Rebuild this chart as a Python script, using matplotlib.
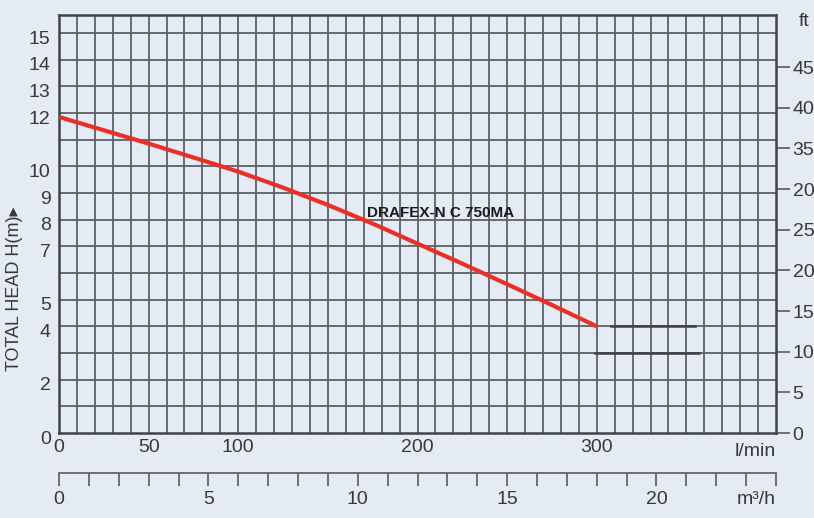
import numpy as np
import matplotlib.pyplot as plt
from matplotlib.ticker import FixedLocator, FixedFormatter, MultipleLocator
from matplotlib.transforms import ScaledTranslation

# pump curve
flow_lmin = [0, 25, 50, 75, 100, 125, 150, 175, 200, 225, 250, 275, 300]
head_m = [11.85, 11.35, 10.85, 10.33, 9.8, 9.2, 8.55, 7.85, 7.1, 6.35, 5.58, 4.8, 4.0]

head_ticks = [0, 2, 4, 5, 7, 8, 9, 10, 12, 13, 14, 15]
flow_ticks = [0, 50, 100, 200, 300]
ft_ticks = [0, 5, 10, 15, 20, 25, 30, 35, 40, 45]
ft_labels = ['0', '5', '10', '15', '20', '25', '20', '35', '40', '45']
m3h_ticks = [0, 5, 10, 15, 20]

# the two dark strokes beside the curve end
mark_x = [[308, 355], [299, 357]]
mark_y = [4, 3]

bg = '#e4ebf5'
ink = '#383838'
plt.rcParams['font.family'] = ['Liberation Sans', 'DejaVu Sans']

fig = plt.figure(figsize=(8.14, 5.18), dpi=100, facecolor=bg)
ax = fig.add_axes([0.0725, 0.164, 0.8808, 0.807])
ax.set_facecolor(bg)
ax.set_xlim(0, 400)
ax.set_ylim(0, 15.67)

# grid every 10 l/min and every 1 m
for x in np.arange(10, 400, 10):
    ax.axvline(x, color='#5c6168', lw=1.3, zorder=1)
for y in np.arange(1, 16, 1):
    ax.axhline(y, color='#5c6168', lw=1.3, zorder=1)

for xs, y in zip(mark_x, mark_y):
    ax.plot(xs, [y, y], color='#3c4046', lw=1.8, zorder=2)

ax.plot(flow_lmin, head_m, color='#ec2f25', lw=3, zorder=3, solid_capstyle='butt')
ax.text(172, 8.25, 'DRAFEX-N C 750MA', fontsize=11, fontweight='bold',
        color='#1a1a1a', ha='left', va='center', zorder=4)

for s in ax.spines.values():
    s.set_color('#40444a')
    s.set_linewidth(1.8)

ax.set_yticks(head_ticks)
ax.set_xticks(flow_ticks)
ax.tick_params(axis='both', length=0, labelsize=14, labelcolor=ink)
ax.tick_params(axis='y', pad=6)
ax.tick_params(axis='x', pad=4)
off = ScaledTranslation(0, -3 / 72, fig.dpi_scale_trans)
for lab in ax.get_yticklabels():
    lab.set_transform(lab.get_transform() + off)

ax.set_ylabel('TOTAL HEAD H(m)\u25b8', fontsize=13, color=ink)
ax.yaxis.set_label_coords(-0.05, 0.345)

ax.text(1.0, -0.045, 'l/min', transform=ax.transAxes, fontsize=14,
        color=ink, ha='right', va='center')

# ft scale on the right
ft = ax.secondary_yaxis('right', functions=(lambda m: m * 3.2808, lambda f: f / 3.2808))
ft.yaxis.set_major_locator(FixedLocator(ft_ticks))
ft.yaxis.set_major_formatter(FixedFormatter(ft_labels))
ft.tick_params(length=10, width=1.2, color='#5a5a5a', labelsize=14, labelcolor=ink, pad=2)
ft.spines['right'].set_visible(False)
ax.text(1.032, 0.985, 'ft', transform=ax.transAxes, fontsize=14, color=ink,
        ha='left', va='center')

# m3/h scale below
m3h = ax.secondary_xaxis(-0.0957, functions=(lambda q: q * 0.06, lambda q: q / 0.06))
m3h.xaxis.set_major_locator(FixedLocator(m3h_ticks))
m3h.xaxis.set_minor_locator(MultipleLocator(1))
m3h.tick_params(which='both', length=9, width=1.2, color='#5a5a5a', direction='out')
m3h.tick_params(labelsize=14, labelcolor=ink, pad=4)
m3h.spines['bottom'].set_color('#666')
m3h.spines['bottom'].set_linewidth(1.3)
ax.text(1.0, -0.16, 'm\u00b3/h', transform=ax.transAxes, fontsize=14,
        color=ink, ha='right', va='center')

fig.savefig('out.png', dpi=100, facecolor=bg)
